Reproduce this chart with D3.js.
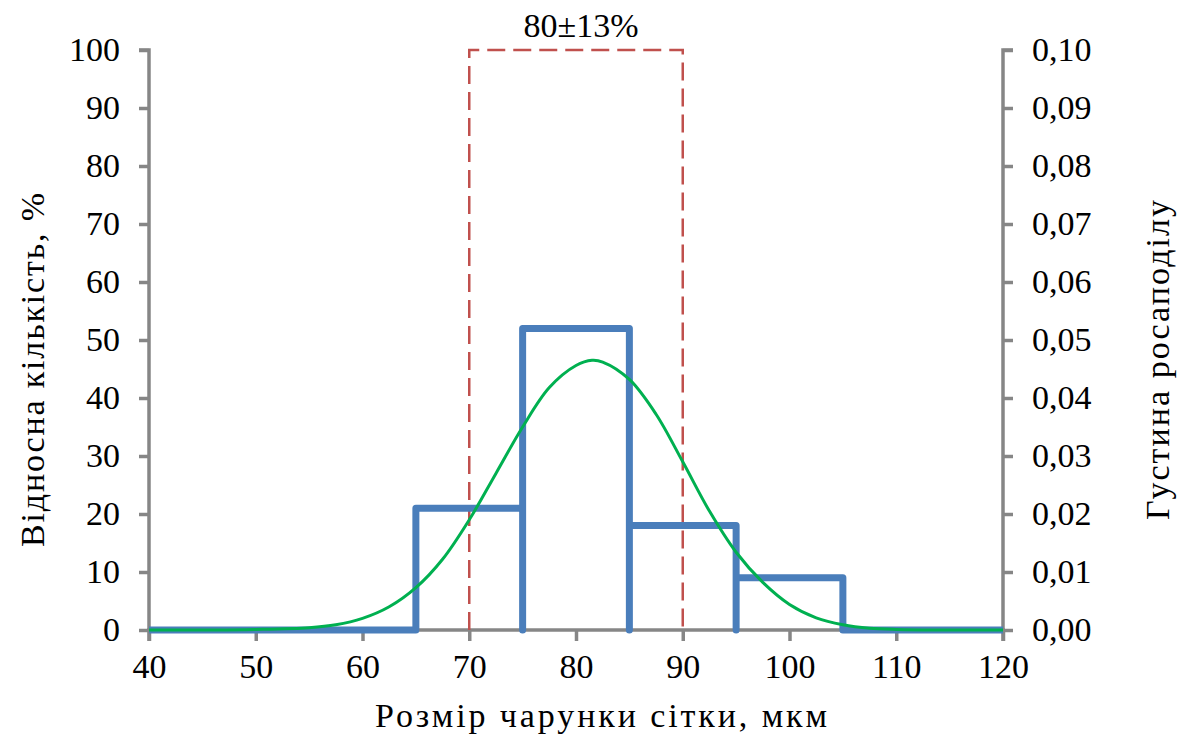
<!DOCTYPE html>
<html>
<head>
<meta charset="utf-8">
<script src="https://cdn.jsdelivr.net/npm/d3@7"></script>
<style>
  body { margin: 0; background: #fff; }
  svg text { font-family: "Liberation Serif", "Times New Roman", serif; fill: #000; }
</style>
</head>
<body>
<div class="chart"></div>
<script>
// histogram bins (mesh size, um) and relative amount, %
const binEdges = [65, 75, 85, 95, 105];
const binCounts = [21, 52, 18, 9];

// fitted density curve
const curveX = [40, 45, 50, 55, 57.5, 60, 62.5, 65, 67.5, 70, 72.5, 75, 77.5, 80, 81.5, 82.5, 85, 87.5, 90, 92.5, 95, 97.5, 100, 102.5, 105, 107.5, 110, 115, 120];
const curveY = [0, 0, 0.0001, 0.0004, 0.0009, 0.0020, 0.0040, 0.0073, 0.0122, 0.0190, 0.0270, 0.0350, 0.0418, 0.0456, 0.0465, 0.0462, 0.0432, 0.0372, 0.0290, 0.0205, 0.0134, 0.0082, 0.0044, 0.0021, 0.0009, 0.0003, 0.0001, 0, 0];

// interval 80 +- 13 %
const bandX = [70, 90];
const bandLabel = "80±13%";

const xTicks = [40, 50, 60, 70, 80, 90, 100, 110, 120];
const yTicks = [0, 10, 20, 30, 40, 50, 60, 70, 80, 90, 100];
const y2Ticks = [0, 0.01, 0.02, 0.03, 0.04, 0.05, 0.06, 0.07, 0.08, 0.09, 0.1];

const width = 1182, height = 746;
const margin = { left: 149, right: 179, top: 50, bottom: 116 };
const serif = '"Liberation Serif", "Times New Roman", serif';

const svg = d3.select(".chart").append("svg")
  .attr("width", width)
  .attr("height", height);

const x = d3.scaleLinear().domain([40, 120]).range([margin.left, width - margin.right]);
const y = d3.scaleLinear().domain([0, 100]).range([height - margin.bottom, margin.top]);
const y2 = d3.scaleLinear().domain([0, 0.1]).range([height - margin.bottom, margin.top]);

const axisColor = "#868686";

// left axis
const gy = svg.append("g")
  .attr("transform", "translate(" + x(40) + ",0)")
  .call(d3.axisLeft(y).tickValues(yTicks).tickSize(10).tickPadding(19));
// right axis
const gy2 = svg.append("g")
  .attr("transform", "translate(" + x(120) + ",0)")
  .call(d3.axisRight(y2).tickValues(y2Ticks).tickSize(10).tickPadding(19)
    .tickFormat(d => d3.format(".2f")(d).replace(".", ",")));
// bottom axis
const gx = svg.append("g")
  .attr("transform", "translate(0," + y(0) + ")")
  .call(d3.axisBottom(x).tickValues(xTicks).tickSize(11).tickPadding(13));

[gy, gy2, gx].forEach(g => {
  g.attr("font-family", serif).attr("font-size", 34);
  g.select(".domain").attr("stroke", axisColor).attr("stroke-width", 3.5);
  g.selectAll(".tick line").attr("stroke", axisColor).attr("stroke-width", 3.5);
});
gy.select(".domain").attr("d", "M-10," + y(100) + "H0V" + y(0));
gy2.select(".domain").attr("d", "M10," + y(100) + "H0V" + y(0));
gx.select(".domain").attr("d", "M" + x(40) + ",11V0H" + x(120) + "V11");

// dashed interval box
svg.append("path")
  .attr("d", d3.line()([[x(bandX[0]), y(0)], [x(bandX[0]), y(100)], [x(bandX[1]), y(100)], [x(bandX[1]), y(0)]]))
  .attr("fill", "none")
  .attr("stroke", "#c0504d")
  .attr("stroke-width", 2.5)
  .attr("stroke-dasharray", "18,8");

svg.append("text")
  .attr("x", (x(bandX[0]) + x(bandX[1])) / 2 + 5)
  .attr("y", 37)
  .attr("text-anchor", "middle")
  .style("font-size", "34px")
  .text(bandLabel);

// histogram step outline
const stepPts = [[40, 0], [binEdges[0], 0]];
binCounts.forEach((c, i) => {
  stepPts.push([binEdges[i], c], [binEdges[i + 1], c], [binEdges[i + 1], 0]);
});
stepPts.push([120, 0]);

svg.append("path")
  .attr("d", d3.line().x(d => x(d[0])).y(d => y(d[1]))(stepPts))
  .attr("fill", "none")
  .attr("stroke", "#4a7ebb")
  .attr("stroke-width", 7)
  .attr("stroke-linejoin", "round");

// density curve
svg.append("path")
  .datum(curveX.map((v, i) => [v, curveY[i]]))
  .attr("d", d3.line().x(d => x(d[0])).y(d => y2(d[1])).curve(d3.curveCatmullRom))
  .attr("fill", "none")
  .attr("stroke", "#00b050")
  .attr("stroke-width", 3);

// axis titles
svg.append("text")
  .attr("x", 601)
  .attr("y", 727)
  .attr("text-anchor", "middle")
  .attr("textLength", 452)
  .attr("lengthAdjust", "spacing")
  .style("font-size", "34px")
  .text("Розмір чарунки сітки, мкм");

svg.append("text")
  .attr("transform", "translate(44,370) rotate(-90)")
  .attr("text-anchor", "middle")
  .attr("textLength", 354)
  .attr("lengthAdjust", "spacing")
  .style("font-size", "34px")
  .text("Відносна кількість, %");

svg.append("text")
  .attr("transform", "translate(1169,360) rotate(-90)")
  .attr("text-anchor", "middle")
  .attr("textLength", 320)
  .attr("lengthAdjust", "spacing")
  .style("font-size", "34px")
  .text("Густина росаподілу");
</script>
</body>
</html>
